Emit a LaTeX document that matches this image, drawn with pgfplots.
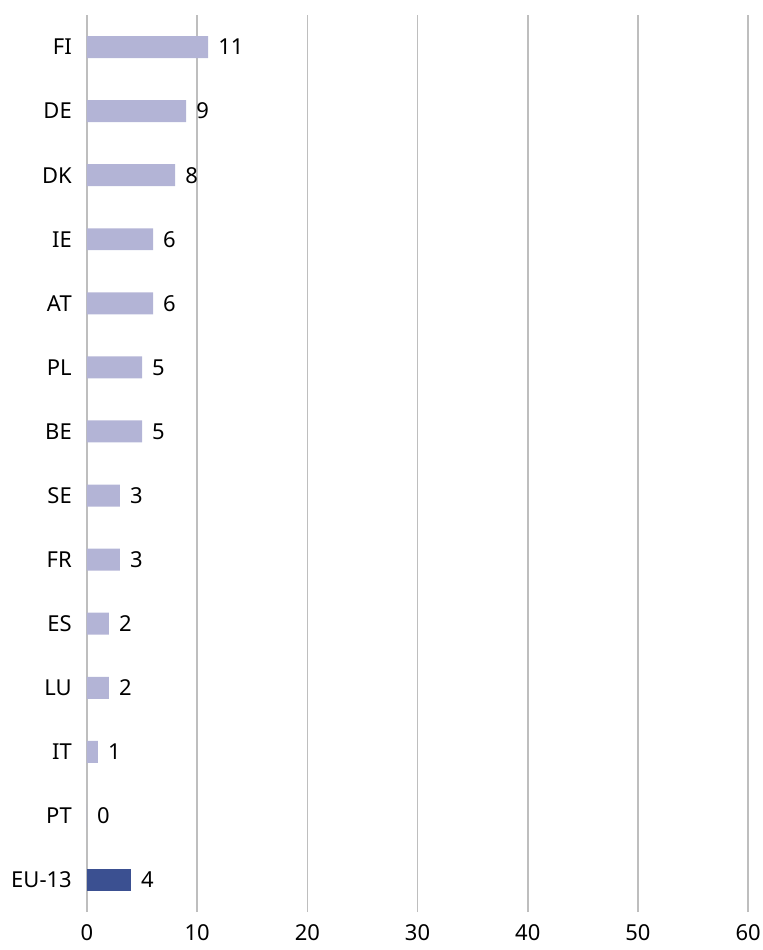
\documentclass[border=0pt]{standalone}
\usepackage{pgfplots}
\pgfplotsset{compat=1.18}
\usepackage{fontspec}
\setmainfont{Noto Sans}
\definecolor{barlight}{RGB}{179,180,214}
\definecolor{bardark}{RGB}{59,80,145}
\definecolor{gridgray}{RGB}{190,190,190}
\begin{document}
\begin{tikzpicture}
\begin{axis}[
  scale only axis,
  width=662pt, height=898pt,
  xmin=0, xmax=60,
  ymin=-0.5, ymax=13.5,
  xtick={0,10,...,60},
  ytick={0,...,13},
  yticklabels={EU-13,PT,IT,LU,ES,FR,SE,BE,PL,AT,IE,DK,DE,FI},
  major tick length=0pt,
  axis line style={draw=none},
  xmajorgrids,
  grid style={gridgray, line width=1.5pt},
  /pgf/number format/assume math mode=true,
  ticklabel style={font=\fontsize{22}{26}\selectfont, inner sep=0pt},
  yticklabel style={xshift=-15pt},
  xticklabel style={yshift=-12pt},
  xbar, bar width=22pt, bar shift=0pt,
  nodes near coords,
  every node near coord/.append style={font=\fontsize{22}{26}\selectfont, anchor=west, inner sep=0pt, xshift=10pt, text=black},
  clip=false,
  after end axis/.code={\path (rel axis cs:0,0) ++(-87pt,-38pt) rectangle ([shift={(14pt,15pt)}]rel axis cs:1,1);},
]
\addplot[fill=barlight, draw=none] coordinates {
 (11,13) (9,12) (8,11) (6,10) (6,9) (5,8) (5,7) (3,6) (3,5) (2,4) (2,3) (1,2) (0,1)
};
\addplot[fill=bardark, draw=none] coordinates {(4,0)};
\end{axis}
\end{tikzpicture}
\end{document}
